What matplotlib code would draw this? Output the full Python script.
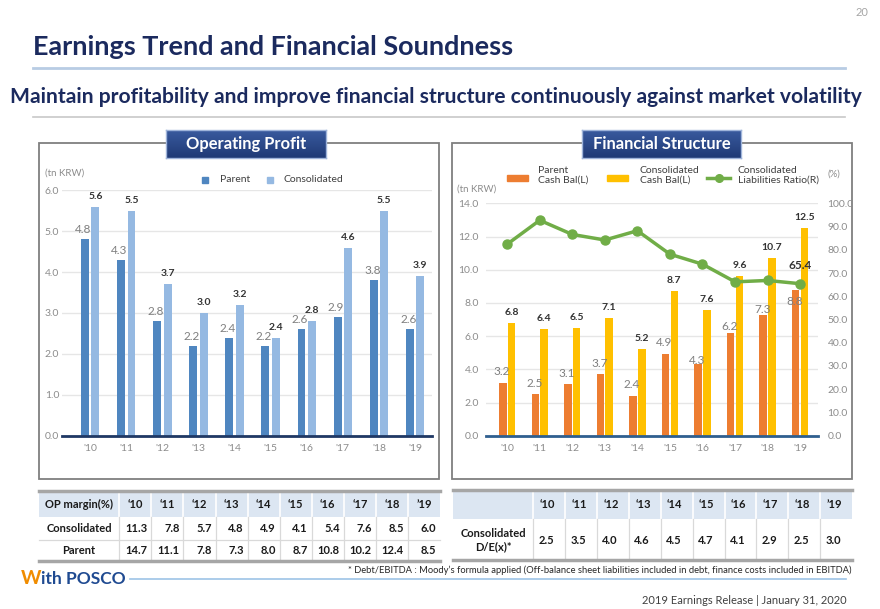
import numpy as np
import matplotlib.pyplot as plt
from matplotlib.patches import Rectangle
from matplotlib.lines import Line2D
from matplotlib.colors import LinearSegmentedColormap

plt.rcParams['font.family'] = ['Lato', 'DejaVu Sans']

W, H = 880, 609

# Data
years = ["'10", "'11", "'12", "'13", "'14", "'15", "'16", "'17", "'18", "'19"]
table_years = ["\u201810", "\u201811", "\u201812", "\u201813", "\u201814",
               "\u201815", "\u201816", "\u201817", "\u201818", "\u201919"]
op_parent = [4.8, 4.3, 2.8, 2.2, 2.4, 2.2, 2.6, 2.9, 3.8, 2.6]
op_consol = [5.6, 5.5, 3.7, 3.0, 3.2, 2.4, 2.8, 4.6, 5.5, 3.9]
cash_parent = [3.2, 2.5, 3.1, 3.7, 2.4, 4.9, 4.3, 6.2, 7.3, 8.8]
cash_consol = [6.8, 6.4, 6.5, 7.1, 5.2, 8.7, 7.6, 9.6, 10.7, 12.5]
liab_ratio = [82.4, 92.7, 86.6, 84.2, 88.2, 78.1, 73.8, 66.2, 66.8, 65.4]
margin_consol = [11.3, 7.8, 5.7, 4.8, 4.9, 4.1, 5.4, 7.6, 8.5, 6.0]
margin_parent = [14.7, 11.1, 7.8, 7.3, 8.0, 8.7, 10.8, 10.2, 12.4, 8.5]
de_ratio = [2.5, 3.5, 4.0, 4.6, 4.5, 4.7, 4.1, 2.9, 2.5, 3.0]

# label nudges (pixels above bar top) for parent cash labels, as placed on the slide
cash_parent_nudge = [11, 11, 11, 11, 11, 11.5, 4, 6, 5, -12]

NAVY = '#1B2A5E'
GRAY = '#7F7F7F'
DARK = '#333333'
TICK = '#8C8C8C'

fig = plt.figure(figsize=(W / 100, H / 100), dpi=100)
bg = fig.add_axes([0, 0, 1, 1], zorder=0)
bg.set_xlim(0, W)
bg.set_ylim(H, 0)
bg.axis('off')


def fig_rect(x0, y0, x1, y1):
    # pixel box with top-left origin -> figure fraction rect
    return [x0 / W, 1 - y1 / H, (x1 - x0) / W, (y1 - y0) / H]


def fit_width(t, target):
    r = fig.canvas.get_renderer()
    w = t.get_window_extent(r).width
    t.set_fontsize(t.get_fontsize() * target / w)


# Slide header
bg.text(868, 12, '20', ha='right', va='center', fontsize=8, color='#A6A6A6')
t = bg.text(33, 47, 'Earnings Trend and Financial Soundness', fontsize=17,
            fontweight='bold', color=NAVY, va='center')
fit_width(t, 482)
bg.plot([33, 845], [68, 68], color='#B8CCE4', lw=2)
t = bg.text(10, 97, 'Maintain profitability and improve financial structure continuously against market volatility',
            fontsize=14, fontweight='bold', color=NAVY, va='center')
fit_width(t, 856)
bg.plot([33, 845], [117, 117], color='#C8C8C8', lw=1.2)

# Panel frames
for x0 in (39, 452):
    bg.add_patch(Rectangle((x0, 143), 400, 336, fill=False, ec='#7F7F7F', lw=1.3))

# Panel title boxes
hdr_cmap = LinearSegmentedColormap.from_list('hdr', ['#3A5A9E', '#1F3A76'])
for (x0, x1), label, tw in [((166, 326), 'Operating Profit', 120),
                            ((582, 741), 'Financial Structure', 138)]:
    hax = fig.add_axes(fig_rect(x0, 130, x1, 158), zorder=3)
    hax.imshow(np.linspace(0, 1, 40)[:, None], aspect='auto', cmap=hdr_cmap, extent=(0, 1, 0, 1))
    hax.set_xticks([])
    hax.set_yticks([])
    for s in hax.spines.values():
        s.set_color('#9FB4DA')
        s.set_linewidth(1)
    t = hax.text(0.5, 0.5, label, transform=hax.transAxes, ha='center', va='center',
                 color='white', fontsize=12, fontweight='bold')
    fit_width(t, tw)

x = np.arange(len(years))

# ---- Operating profit chart ----
ax1 = fig.add_axes(fig_rect(62, 190.3, 432, 435.7), zorder=2)
ax1.patch.set_alpha(0)
ax1.bar(x - 0.145, op_parent, 0.22, color='#4F86C0', zorder=2)
ax1.bar(x + 0.145, op_consol, 0.22, color='#95B9E2', zorder=2)
ax1.set_xlim(-0.78, 9.47)
ax1.set_ylim(0, 6)
ax1.set_yticks(np.arange(0, 6.1, 1))
ax1.set_yticklabels([f'{v:.1f}' for v in np.arange(0, 6.1, 1)])
ax1.set_xticks(x)
ax1.set_xticklabels(years)
ax1.yaxis.grid(True, color='#E6E6E6', lw=1)
ax1.set_axisbelow(True)
for s in ('top', 'right', 'left'):
    ax1.spines[s].set_visible(False)
ax1.spines['bottom'].set_color('#1F3864')
ax1.spines['bottom'].set_linewidth(2)
ax1.tick_params(axis='y', length=0, labelsize=7.5, labelcolor=TICK, pad=2)
ax1.tick_params(axis='x', length=0, labelsize=7.5, labelcolor=TICK, pad=6)
for xi, v in zip(x, op_parent):
    ax1.annotate(f'{v:.1f}', (xi - 0.145, v), xytext=(-1.5, 9.5), textcoords='offset pixels',
                 ha='center', va='center', fontsize=8.5, color=GRAY)
for xi, v in zip(x, op_consol):
    ax1.annotate(f'{v:.1f}', (xi + 0.145, v), xytext=(0, 10.5), textcoords='offset pixels',
                 ha='center', va='center', fontsize=7.5, color=DARK, fontweight='bold')

bg.text(45, 173, '(tn KRW)', fontsize=7, color=TICK, va='center')
bg.add_patch(Rectangle((202, 177), 6, 6, color='#4F86C0'))
bg.text(220, 180, 'Parent', fontsize=7.5, color='#404040', va='center')
bg.add_patch(Rectangle((267, 177), 6, 6, color='#95B9E2'))
bg.text(283, 180, 'Consolidated', fontsize=7.5, color='#404040', va='center')

# ---- Financial structure chart ----
ax2 = fig.add_axes(fig_rect(485.7, 203.3, 817.7, 435.7), zorder=2)
ax2.patch.set_alpha(0)
ax2.bar(x - 0.135, cash_parent, 0.23, color='#ED7D31', zorder=2)
ax2.bar(x + 0.135, cash_consol, 0.23, color='#FFC000', zorder=2)
ax2.set_xlim(-0.66, 9.54)
ax2.set_ylim(0, 14)
ax2.set_yticks(np.arange(0, 14.1, 2))
ax2.set_yticklabels([f'{v:.1f}' for v in np.arange(0, 14.1, 2)])
ax2.set_xticks(x)
ax2.set_xticklabels(years)
ax2.yaxis.grid(True, color='#E6E6E6', lw=1)
ax2.set_axisbelow(True)
for s in ('top', 'right', 'left'):
    ax2.spines[s].set_visible(False)
ax2.spines['bottom'].set_color('#2F5F8F')
ax2.spines['bottom'].set_linewidth(2)
ax2.tick_params(axis='y', length=0, labelsize=7.5, labelcolor=TICK, pad=5)
ax2.tick_params(axis='x', length=0, labelsize=7.5, labelcolor=TICK, pad=6)
for xi, v, dy in zip(x, cash_parent, cash_parent_nudge):
    ax2.annotate(f'{v:.1f}', (xi - 0.135, v), xytext=(-1, dy), textcoords='offset pixels',
                 ha='center', va='center', fontsize=8.5, color=GRAY)
for xi, v in zip(x, cash_consol):
    ax2.annotate(f'{v:.1f}', (xi + 0.135, v), xytext=(0, 10.5), textcoords='offset pixels',
                 ha='center', va='center', fontsize=7.5, color=DARK, fontweight='bold')

ax3 = ax2.twinx()
ax3.set_zorder(3)
ax3.plot(x, liab_ratio, color='#70AD47', lw=2.5, marker='o', ms=6.5, zorder=4)
ax3.set_ylim(0, 100)
ax3.set_yticks(np.arange(0, 101, 10))
ax3.set_yticklabels([f'{v:.1f}' for v in np.arange(0, 101, 10)])
for s in ax3.spines.values():
    s.set_visible(False)
ax3.tick_params(axis='y', length=0, labelsize=7.5, labelcolor=TICK, pad=7)
ax3.annotate(f'{liab_ratio[-1]:.1f}', (x[-1], liab_ratio[-1]), xytext=(0, 18),
             textcoords='offset pixels', ha='center', va='center', fontsize=8.5,
             color=DARK, fontweight='bold')

bg.text(457, 189, '(tn KRW)', fontsize=7, color=TICK, va='center')
bg.text(827, 174, '(%)', fontsize=7, color=TICK, va='center')
bg.add_patch(Rectangle((507, 174.5), 21, 6, color='#ED7D31'))
bg.text(538, 175, 'Parent\nCash Bal(L)', fontsize=7.5, color='#404040', va='center', linespacing=1.1)
bg.add_patch(Rectangle((607, 174.5), 21, 6, color='#FFC000'))
bg.text(640, 175, 'Consolidated\nCash Bal(L)', fontsize=7.5, color='#404040', va='center', linespacing=1.1)
bg.add_line(Line2D([707, 730], [177.5, 177.5], color='#70AD47', lw=2.5))
bg.plot([718.5], [177.5], 'o', color='#70AD47', ms=5.5)
bg.text(738, 175, 'Consolidated\nLiabilities Ratio(R)', fontsize=7.5, color='#404040', va='center', linespacing=1.1)

# ---- Tables ----
HDR_BG = '#DCE6F2'
LINE = '#D9D9D9'
TBL_FS = 8


def draw_table_frame(x0, x1, first_col, top, hdr_bottom, bottom):
    cols = np.linspace(first_col, x1, 11)
    bg.add_patch(Rectangle((x0, top), x1 - x0, hdr_bottom - top, color=HDR_BG, lw=0))
    for cx in np.concatenate([[first_col], cols[1:-1]]):
        bg.plot([cx, cx], [top, hdr_bottom], color='white', lw=1.2)
        bg.plot([cx, cx], [hdr_bottom, bottom], color=LINE, lw=0.9)
    bg.plot([x0, x1], [top, top], color='#A6A6A6', lw=2.5)
    bg.plot([x0, x1], [bottom, bottom], color='#A6A6A6', lw=2.5)
    return cols


# left: OP margin
cols = draw_table_frame(39, 440, 119.3, 491, 517.3, 561)
bg.plot([39, 440], [540, 540], color=LINE, lw=0.9)
bg.text(79, 504, 'OP margin(%)', ha='center', va='center', fontsize=TBL_FS, fontweight='bold', color='#1A1A1A')
bg.text(79, 528.5, 'Consolidated', ha='center', va='center', fontsize=TBL_FS, fontweight='bold', color='#1A1A1A')
bg.text(79, 550.5, 'Parent', ha='center', va='center', fontsize=TBL_FS, fontweight='bold', color='#1A1A1A')
for i, yl in enumerate(table_years):
    cx = (cols[i] + cols[i + 1]) / 2
    bg.text(cx, 504, yl, ha='center', va='center', fontsize=TBL_FS, fontweight='bold', color='#1A1A1A')
    bg.text(cols[i + 1] - 4, 528.5, f'{margin_consol[i]:.1f}', ha='right', va='center',
            fontsize=TBL_FS, fontweight='bold', color='#1A1A1A')
    bg.text(cols[i + 1] - 4, 550.5, f'{margin_parent[i]:.1f}', ha='right', va='center',
            fontsize=TBL_FS, fontweight='bold', color='#1A1A1A')

# right: D/E
cols = draw_table_frame(452.7, 852, 533.3, 490, 519.3, 560)
bg.text(493, 540, 'Consolidated\nD/E(x)*', ha='center', va='center', fontsize=TBL_FS,
        fontweight='bold', color='#1A1A1A', linespacing=1.3)
for i, yl in enumerate(table_years):
    cx = (cols[i] + cols[i + 1]) / 2
    bg.text(cx - 2, 504.5, yl, ha='center', va='center', fontsize=TBL_FS, fontweight='bold', color='#1A1A1A')
    bg.text(cx - 3, 540.5, f'{de_ratio[i]:.1f}', ha='center', va='center',
            fontsize=TBL_FS, fontweight='bold', color='#1A1A1A')

# ---- Footer ----
t = bg.text(851, 570.5, '* Debt/EBITDA : Moody\u2019s formula applied (Off-balance sheet liabilities included in debt, finance costs included in EBITDA)',
            ha='right', va='center', fontsize=7.5, color='#262626')
fit_width(t, 501)
bg.plot([130, 846], [578.5, 578.5], color='#9DC3E6', lw=1.2)
bg.text(21, 579, 'W', ha='left', va='center', fontsize=14, fontweight='bold', color='#F08C00')
bg.text(41, 579, 'ith POSCO', ha='left', va='center', fontsize=12.5, fontweight='bold', color='#1F4A91')
bg.text(847, 601, '2019 Earnings Release | January 31, 2020', ha='right', va='center', fontsize=8, color='#404040')

fig.savefig('out.png', dpi=100)
